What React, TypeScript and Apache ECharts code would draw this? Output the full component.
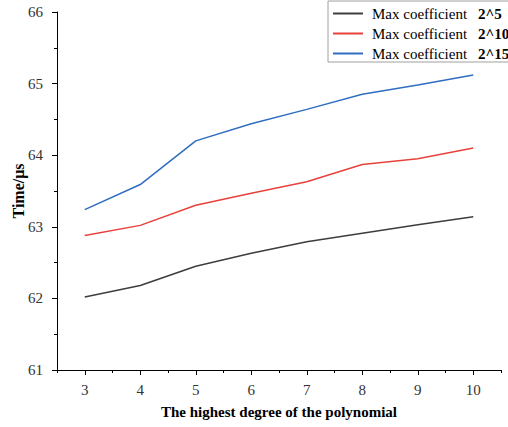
import React, { useEffect, useRef } from "react";
import * as echarts from "echarts";

const degrees = ["3", "4", "5", "6", "7", "8", "9", "10"];
const coef5 = [62.02, 62.18, 62.45, 62.63, 62.79, 62.91, 63.03, 63.14];
const coef10 = [62.88, 63.02, 63.3, 63.47, 63.63, 63.87, 63.95, 64.1];
const coef15 = [63.24, 63.59, 64.2, 64.44, 64.64, 64.85, 64.98, 65.12];
const seriesNames = ["2^5", "2^10", "2^15"];
const yMin = 61;
const yMax = 66;

const SERIF = "Liberation Serif";

export default function App() {
  const ref = useRef<HTMLDivElement>(null);
  useEffect(() => {
    if (!ref.current) return;
    const chart = echarts.init(ref.current, undefined, { renderer: "svg" });
    const colors = ["#3d3d3d", "#e8413b", "#2f6dc0"];
    const data = [coef5, coef10, coef15];
    chart.setOption({
      animation: false,
      backgroundColor: "#ffffff",
      textStyle: { fontFamily: SERIF },
      grid: {
        left: 57,
        right: 7,
        top: 12,
        bottom: 57,
        containLabel: false,
        outerBoundsMode: "none",
      },
      legend: {
        orient: "vertical",
        left: 328,
        top: 1,
        padding: [5, 10, 1, 5],
        borderColor: "#a0a0a0",
        borderWidth: 1,
        borderRadius: 0,
        itemWidth: 30,
        itemHeight: 14,
        itemGap: 5,
        icon: "path://M0,6L30,6L30,8L0,8Z",
        data: seriesNames,
        formatter: (name: string) => `{a|Max coefficient}{b|${name}}`,
        textStyle: {
          fontFamily: SERIF,
          fontSize: 15,
          color: "#000",
          rich: {
            a: { fontFamily: SERIF, fontSize: 15, color: "#000", padding: [0, 11, 0, 4] },
            b: { fontFamily: SERIF, fontSize: 15, fontWeight: "bold", color: "#000" },
          },
        },
      },
      xAxis: [
        {
          type: "category",
          data: degrees,
          boundaryGap: true,
          name: "The highest degree of the polynomial",
          nameLocation: "middle",
          nameGap: 34,
          nameMoveOverlap: false,
          nameTextStyle: { fontFamily: SERIF, fontSize: 15, fontWeight: "bold", color: "#000" },
          axisLine: { show: true, lineStyle: { color: "#000", width: 1 } },
          axisTick: { show: true, alignWithLabel: true, length: 5, lineStyle: { color: "#000" } },
          axisLabel: { fontFamily: SERIF, fontSize: 15, color: "#333", margin: 12 },
          splitLine: { show: false },
        },
        {
          type: "category",
          data: degrees,
          boundaryGap: true,
          position: "bottom",
          axisLine: { show: false },
          axisTick: { show: true, length: 3, lineStyle: { color: "#000" } },
          axisLabel: { show: false },
          splitLine: { show: false },
        },
      ],
      yAxis: {
        type: "value",
        min: yMin,
        max: yMax,
        interval: 1,
        name: "Time/μs",
        nameLocation: "middle",
        nameGap: 31,
        nameMoveOverlap: false,
        nameTextStyle: { fontFamily: SERIF, fontSize: 16, fontWeight: "bold", color: "#000" },
        axisLine: { show: true, lineStyle: { color: "#000", width: 1 } },
        axisTick: { show: true, length: 5, lineStyle: { color: "#000" } },
        minorTick: { show: true, splitNumber: 2, length: 3, lineStyle: { color: "#000" } },
        axisLabel: { fontFamily: SERIF, fontSize: 15, color: "#333", margin: 14 },
        splitLine: { show: false },
        minorSplitLine: { show: false },
      },
      series: seriesNames.map((n, i) => ({
        name: n,
        type: "line",
        xAxisIndex: 0,
        data: data[i],
        symbol: "none",
        lineStyle: { color: colors[i], width: 1.5 },
        itemStyle: { color: colors[i] },
      })),
    });
    return () => chart.dispose();
  }, []);
  return (
    <div
      ref={ref}
      style={{ position: "fixed", left: 0, top: 0, width: 508, height: 427 }}
    />
  );
}
